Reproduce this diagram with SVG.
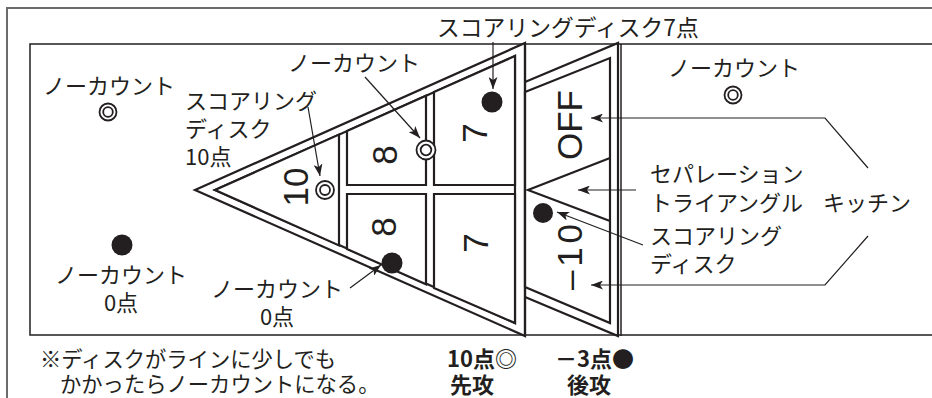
<svg xmlns="http://www.w3.org/2000/svg" width="932" height="398" viewBox="0 0 932 398">
<defs>
<marker id="ah" viewBox="0 0 12 9" refX="12" refY="4.5" markerWidth="12" markerHeight="9" markerUnits="userSpaceOnUse" orient="auto"><path d="M0,0 L12,4.5 L0,9 L3,4.5 z" fill="#231f20"/></marker>
</defs>
<style>
.jp{font-family:"Noto Sans CJK JP","Noto Sans",sans-serif;font-size:22px;fill:#231f20}
.b{font-weight:bold}
.num{font-family:"Liberation Sans",Arial,sans-serif;font-size:35px;fill:#231f20;text-anchor:middle}
.thick{fill:none;stroke:#231f20;stroke-width:2.2;stroke-linejoin:miter}
.cell{fill:#fff;stroke:#231f20;stroke-width:2.2}
.court{fill:none;stroke:#231f20;stroke-width:1.5}
.frame{fill:none;stroke:#6b6b6b;stroke-width:2}
.conn{fill:none;stroke:#231f20;stroke-width:1.2}
.dot{fill:#231f20}
.ring{fill:#fff;stroke:#231f20;stroke-width:1.8}
</style>
<path class="frame" d="M7,398 V8 H932"/>
<path class="court" d="M932,44 H30 V335 H932"/>
<g id="court-board">
<polygon class="cell" points="195,190 525,43 525,336"/>
<polygon class="cell" points="215,190 515,56 515,323"/>
<polygon class="cell" points="215,190 339,134.6 339,245.4"/>
<polygon class="cell" points="347,131 426,95.7 426,185 347,185"/>
<polygon class="cell" points="434,92 515,56 515,185 434,185"/>
<polygon class="cell" points="347,194 426,194 426,284.3 347,249"/>
<polygon class="cell" points="434,194 515,194 515,323 434,288"/>
</g>
<g id="kitchen">
<path class="thick" d="M525,82 L618,43 V336 L525,297"/>
<polygon class="cell" points="525,92 610,58 610,323 525,287"/>
<path class="thick" d="M610,158 L528,190 L610,221"/>
<line x1="621" y1="44" x2="621" y2="336" stroke="#231f20" stroke-width="1.5"/>
<line x1="525" y1="43" x2="525" y2="336" stroke="#231f20" stroke-width="2.2"/>
</g>
<g id="numbers">
<text class="num" transform="translate(308,187) rotate(-90)">10</text>
<text class="num" transform="translate(397,155) rotate(-90)">8</text>
<text class="num" transform="translate(396,227) rotate(-90)">8</text>
<text class="num" transform="translate(487,133) rotate(-90)">7</text>
<text class="num" transform="translate(488,243) rotate(-90)">7</text>
<text class="num" transform="translate(582,125) rotate(-90)">OFF</text>
<text class="num" transform="translate(582,257) rotate(-90)" textLength="66" lengthAdjust="spacing">–10</text>
</g>
<g id="discs">
<circle class="ring" cx="108" cy="112" r="8.5"/><circle class="ring" cx="108" cy="112" r="4.8"/>
<circle class="ring" cx="733" cy="95" r="8.5"/><circle class="ring" cx="733" cy="95" r="4.8"/>
<circle class="ring" cx="325" cy="190" r="9"/><circle class="ring" cx="325" cy="190" r="5"/>
<circle class="ring" cx="426" cy="150" r="9.5"/><circle class="ring" cx="426" cy="150" r="5.3"/>
<circle class="dot" cx="492" cy="102" r="10.5"/>
<circle class="dot" cx="392" cy="263" r="10.5"/>
<circle class="dot" cx="543" cy="213" r="10"/>
<circle class="dot" cx="122" cy="245" r="10.5"/>
</g>
<g id="connectors">
<line class="conn" x1="308" y1="107" x2="320" y2="176" marker-end="url(#ah)"/>
<line class="conn" x1="365" y1="77" x2="420" y2="138" marker-end="url(#ah)"/>
<line class="conn" x1="493" y1="42" x2="493" y2="89" marker-end="url(#ah)"/>
<line class="conn" x1="350" y1="288" x2="381" y2="265" marker-end="url(#ah)"/>
<line class="conn" x1="636" y1="190" x2="578" y2="190" marker-end="url(#ah)"/>
<line class="conn" x1="643" y1="245" x2="557" y2="212" marker-end="url(#ah)"/>
<polyline class="conn" points="868,168 825,118 591,118" marker-end="url(#ah)"/>
<polyline class="conn" points="868,236 825,285 591,285" marker-end="url(#ah)"/>
</g>
<g id="labels">
<text class="jp" x="437" y="36" style="font-size:22.8px">スコアリングディスク7点</text>
<text class="jp" x="43" y="94">ノーカウント</text>
<text class="jp" x="288" y="71">ノーカウント</text>
<text class="jp" x="668" y="76">ノーカウント</text>
<text class="jp" x="185" y="109">スコアリング</text>
<text class="jp" x="185" y="137">ディスク</text>
<text class="jp" x="185" y="165">10点</text>
<text class="jp" x="650" y="182">セパレーション</text>
<text class="jp" x="650" y="211">トライアングル</text>
<text class="jp" x="823" y="211">キッチン</text>
<text class="jp" x="650" y="244">スコアリング</text>
<text class="jp" x="650" y="272">ディスク</text>
<text class="jp" x="121" y="283" text-anchor="middle">ノーカウント</text>
<text class="jp" x="121" y="311" text-anchor="middle">0点</text>
<text class="jp" x="277" y="297" text-anchor="middle">ノーカウント</text>
<text class="jp" x="277" y="325" text-anchor="middle">0点</text>
<text class="jp" x="40" y="367" style="font-size:21.3px">※ディスクがラインに少しでも</text>
<text class="jp" x="60" y="392" style="font-size:21.3px">かかったらノーカウントになる。</text>
<text class="jp b" x="447" y="367">10点◎</text>
<text class="jp b" x="450" y="393">先攻</text>
<text class="jp b" x="555" y="367">－3点●</text>
<text class="jp b" x="567" y="393">後攻</text>
</g>
</svg>
